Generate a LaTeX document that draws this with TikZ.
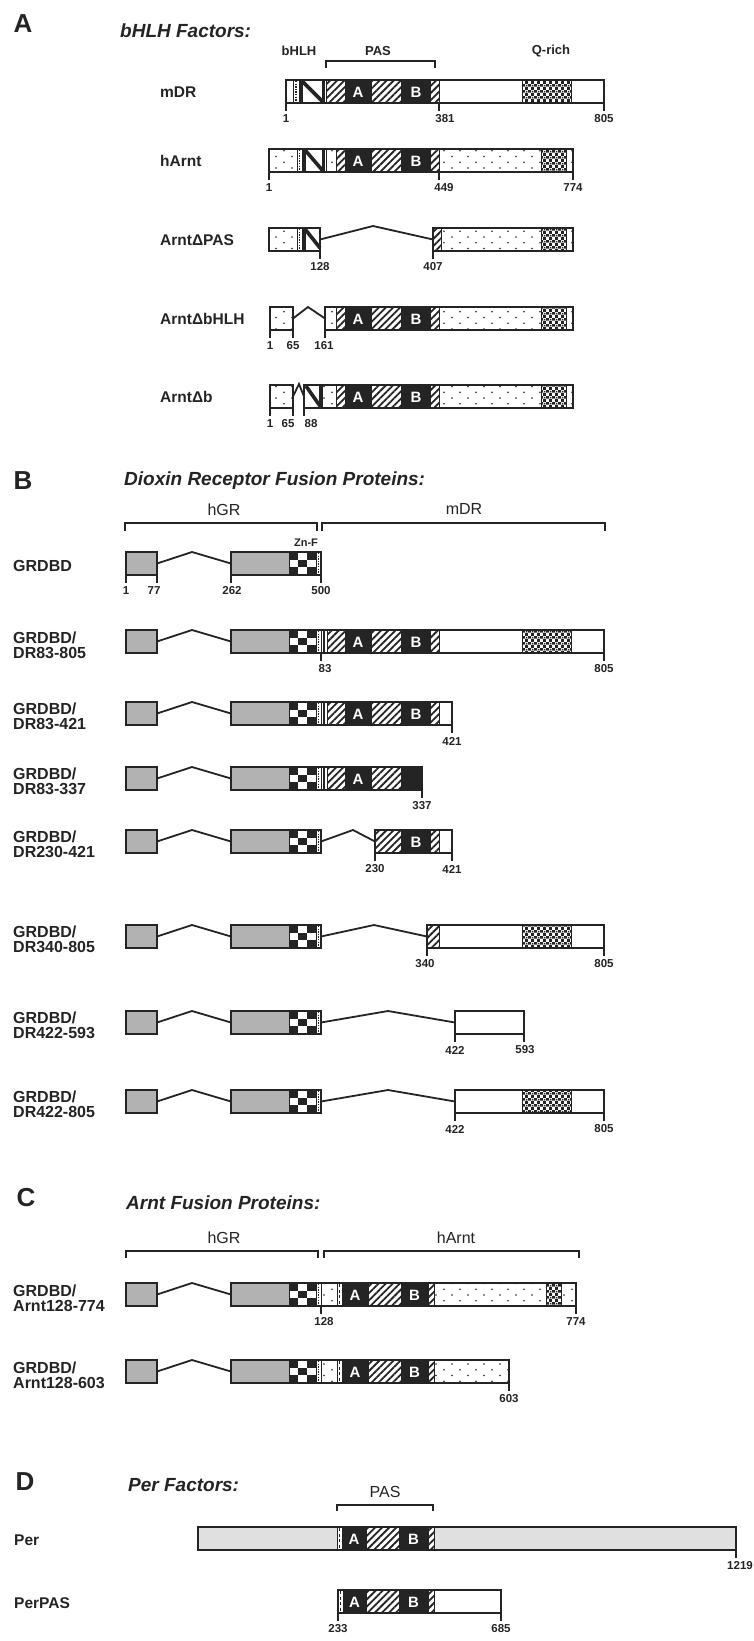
\documentclass[tikz,border=0pt]{standalone}
\usepackage{fontspec}
\setmainfont{Liberation Sans}
\usetikzlibrary{patterns,patterns.meta}
\definecolor{ink}{gray}{0.14}
\pgfdeclarepatternformonly{sdots}{\pgfqpoint{-1pt}{-1pt}}{\pgfqpoint{17pt}{12.5pt}}{\pgfqpoint{16pt}{11.5pt}}{%
 \pgfpathcircle{\pgfqpoint{4pt}{1pt}}{0.85pt}%
 \pgfpathcircle{\pgfqpoint{12pt}{6.75pt}}{0.85pt}%
 \pgfusepath{fill}}
\pgfdeclarepatternformonly{qrich}{\pgfqpoint{-1pt}{-1pt}}{\pgfqpoint{7pt}{7pt}}{\pgfqpoint{6pt}{6pt}}{%
 \pgfpathrectangle{\pgfqpoint{0.2pt}{0.3pt}}{\pgfqpoint{3pt}{2.6pt}}%
 \pgfpathrectangle{\pgfqpoint{3.2pt}{3pt}}{\pgfqpoint{2.6pt}{3pt}}%
 \pgfpathrectangle{\pgfqpoint{4.2pt}{0.6pt}}{\pgfqpoint{1.2pt}{1.4pt}}%
 \pgfusepath{fill}}
\tikzset{
 bx/.style={draw=ink, line width=1.8pt},
 sgl/.style={draw=ink, line width=0.7pt},
 wh/.style={sgl, fill=white},
 dw/.style={sgl, pattern=sdots, pattern color=ink},
 gs/.style={sgl, fill=black!30},
 gl/.style={sgl, fill=black!12},
 ht/.style={sgl, pattern={Lines[angle=45,distance=5pt,line width=1.8pt]}, pattern color=ink},
 bk/.style={sgl, fill=ink},
 qr/.style={sgl, pattern=qrich, pattern color=ink},
 cn/.style={draw=ink, line width=1.8pt},
 tk/.style={draw=ink, line width=1.4pt},
 num/.style={font=\fontsize{11.5}{12}\selectfont\bfseries, text=ink, inner sep=0pt},
 lab/.style={font=\fontsize{15.5}{18}\selectfont\bfseries, text=ink, anchor=west, inner sep=0pt},
 blab/.style={font=\fontsize{16}{15}\selectfont\bfseries, text=ink, anchor=west, inner sep=0pt, align=left},
 hd/.style={font=\fontsize{19}{22}\selectfont\bfseries\itshape, text=ink, anchor=west, inner sep=0pt},
 big/.style={font=\fontsize{26}{30}\selectfont\bfseries, text=ink, inner sep=0pt},
 dom/.style={font=\fontsize{13}{15}\selectfont\bfseries, text=ink, inner sep=0pt},
 dom2/.style={font=\fontsize{16}{18}\selectfont, text=ink, inner sep=0pt},
 abl/.style={font=\fontsize{15}{15}\selectfont\bfseries, text=white, inner sep=0pt},
 znf/.style={font=\fontsize{11}{12}\selectfont\bfseries, text=ink, inner sep=0pt},
}
\newcounter{nid}
\newcommand\NID{\stepcounter{nid}}
\newcommand\Seg[4]{\path[#4] (#1,#3) rectangle (#2,#3+23);}
\newcommand\OBox[3]{\draw[bx] (#1,#3) rectangle (#2,#3+23);}
\newcommand\Tick[4]{\draw[tk] (#1,#2+23) -- (#1,#2+31);\NID\node[num] (t\arabic{nid}) at (#3,#2+39) {#4};}
\newcommand\Lt[3]{\NID\node[abl] (l\arabic{nid}) at (#1,#2+12) {#3};}
\newcommand\Dstrip[3]{\path[wh] (#1,#3) rectangle (#2,#3+23);
 \draw[ink,line width=1.3pt,dash pattern=on 1.3pt off 1.3pt] ({(#1+#2)/2},#3+1) -- ({(#1+#2)/2},#3+22);}
\newcommand\Dash[3]{\path[wh] (#1,#3) rectangle (#2,#3+23);
 \draw[ink,line width=1.6pt,dash pattern=on 3pt off 2.5pt] ({(#1+#2)/2},#3+1) -- ({(#1+#2)/2},#3+22);}
\newcommand\Vstrip[3]{\path[wh] (#1,#3) rectangle (#2,#3+23);
 \draw[ink,line width=1.2pt] ({(#1+#2)/2},#3) -- ({(#1+#2)/2},#3+23);}
\newcommand\Nreg[3]{\path[wh] (#1,#3) rectangle (#2,#3+23);
 \draw[ink,line width=3pt] (#1+2.5,#3) -- (#1+2.5,#3+23);
 \draw[ink,line width=3.6pt] (#1+3,#3+1) -- (#2-3,#3+22);
 \draw[ink,line width=3pt] (#2-2.5,#3) -- (#2-2.5,#3+23);}
\newcommand\Checker[3]{\path[wh] (#1,#3) rectangle (#2,#3+23);
 \foreach \i in {0,1,2}{\foreach \j in {0,1,2}{%
  \pgfmathtruncatemacro\chk{mod(\i+\j,2)}%
  \ifnum\chk=0 \fill[ink] ({#1+\i*(#2-#1)/3},{#3+\j*23/3}) rectangle ({#1+(\i+1)*(#2-#1)/3},{#3+(\j+1)*23/3});\fi}}}
\newcommand\Core[1]{\Seg{345}{371}{#1}{bk}\Seg{371}{401}{#1}{ht}\Seg{401}{430}{#1}{bk}\Seg{430}{439}{#1}{ht}\Lt{358}{#1}{A}\Lt{416}{#1}{B}}
\newcommand\GR[1]{\Seg{126}{157}{#1}{gs}\OBox{126}{157}{#1}\draw[cn] (157,#1+11.5) -- (192,#1) -- (231,#1+11.5);\Seg{231}{289}{#1}{gs}\Checker{289}{316}{#1}\Dstrip{316}{321}{#1}}
\newcommand\ArntC[1]{\Seg{321}{337}{#1}{dw}\Dash{337}{342}{#1}\Seg{342}{368}{#1}{bk}\Seg{368}{401}{#1}{ht}\Seg{401}{428}{#1}{bk}\Seg{428}{434}{#1}{ht}\Lt{355}{#1}{A}\Lt{414.5}{#1}{B}}
\begin{document}
\begin{tikzpicture}[x=1pt,y=-1pt]
\useasboundingbox[fill=white] (0,0) rectangle (754,1641);
% ================= A =================
\node[big] (bigA) at (23,24) {A};
\node[hd] (hA) at (120,31) {bHLH Factors:};
\node[dom] (dbh) at (299,51) {bHLH};
\node[dom] (dpas) at (378,51) {PAS};
\node[dom] (dq) at (551,51) {Q-rich};
\draw[tk] (326,68) -- (326,61) -- (435,61) -- (435,68);
% mDR
\node[lab] (lmdr) at (160,92) {mDR};
\Seg{286}{293}{80}{wh}\Dstrip{293}{299}{80}\Nreg{299}{326}{80}\Seg{326}{345}{80}{ht}\Core{80}
\Seg{439}{522}{80}{wh}\Seg{522}{571}{80}{qr}\Seg{571}{604}{80}{wh}\OBox{286}{604}{80}
\Tick{286}{80}{286}{1}\Tick{439}{80}{445}{381}\Tick{604}{80}{604}{805}
% hArnt
\node[lab] (lharnt) at (160,161) {hArnt};
\Seg{269}{297}{149}{dw}\Dstrip{297}{302}{149}\Nreg{302}{326}{149}\Seg{326}{336}{149}{dw}\Seg{336}{345}{149}{ht}\Core{149}
\Seg{439}{541}{149}{dw}\Seg{541}{566}{149}{qr}\Seg{566}{573}{149}{dw}\OBox{269}{573}{149}
\Tick{269}{149}{269}{1}\Tick{439}{149}{444}{449}\Tick{573}{149}{573}{774}
% Arnt dPAS
\node[lab] (ldpas) at (160,240) {ArntΔPAS};
\Seg{269}{297}{228}{dw}\Dstrip{297}{302}{228}\path[wh] (302,228) rectangle (320,251);
\draw[ink,line width=3pt] (304.5,228) -- (304.5,251);
\draw[ink,line width=3.6pt] (305,229) -- (320,248);
\OBox{269}{320}{228}
\draw[cn] (320,239.5) -- (373,226) -- (433,239.5);
\Seg{433}{441}{228}{ht}\Seg{441}{541}{228}{dw}\Seg{541}{566}{228}{qr}\Seg{566}{573}{228}{dw}\OBox{433}{573}{228}
\Tick{320}{228}{320}{128}\Tick{433}{228}{433}{407}
% Arnt dbHLH
\node[lab] (ldbhlh) at (160,319) {ArntΔbHLH};
\Seg{270}{293}{307}{dw}\OBox{270}{293}{307}
\draw[cn] (293,318.5) -- (308,307) -- (325,318.5);
\Seg{325}{336}{307}{dw}\Seg{336}{345}{307}{ht}\Core{307}
\Seg{439}{541}{307}{dw}\Seg{541}{566}{307}{qr}\Seg{566}{573}{307}{dw}\OBox{325}{573}{307}
\Tick{270}{307}{270}{1}\Tick{293}{307}{293}{65}\Tick{325}{307}{324}{161}
% Arnt db
\node[lab] (ldb) at (160,397) {ArntΔb};
\Seg{270}{293}{385}{dw}\OBox{270}{293}{385}
\draw[cn] (293,396.5) -- (299,384) -- (304,396.5);
\path[wh] (304,385) rectangle (322,408);
\draw[ink,line width=3.6pt] (306,386) -- (320,406);
\draw[ink,line width=3pt] (320,385) -- (320,408);
\Seg{322}{336}{385}{dw}\Seg{336}{345}{385}{ht}\Core{385}
\Seg{439}{541}{385}{dw}\Seg{541}{566}{385}{qr}\Seg{566}{573}{385}{dw}\OBox{304}{573}{385}
\Tick{270}{385}{270}{1}\Tick{293}{385}{288}{65}\Tick{304}{385}{311}{88}
% ================= B =================
\node[big] (bigB) at (23,481) {B};
\node[hd] (hB) at (124,481) {Dioxin Receptor Fusion Proteins:};
\node[dom2] (bhgr) at (224,510) {hGR};
\node[dom2] (bmdr) at (464,509) {mDR};
\draw[tk] (125,531) -- (125,523) -- (317,523) -- (317,531);
\draw[tk] (322,531) -- (322,523) -- (605,523) -- (605,531);
\node[znf] (zn) at (306,543) {Zn-F};
% GRDBD
\node[blab] (g1) at (13,566) {GRDBD};
\GR{552}\OBox{231}{321}{552}
\Tick{126}{552}{126}{1}\Tick{157}{552}{154}{77}\Tick{231}{552}{232}{262}\Tick{321}{552}{321}{500}
% DR83-805
\node[blab] (g2) at (13,645) {GRDBD/\\DR83-805};
\GR{630}\Vstrip{321}{327}{630}\Seg{327}{345}{630}{ht}\Core{630}
\Seg{439}{522}{630}{wh}\Seg{522}{571}{630}{qr}\Seg{571}{604}{630}{wh}\OBox{231}{604}{630}
\Tick{321}{630}{325}{83}\Tick{604}{630}{604}{805}
% DR83-421
\node[blab] (g3) at (13,716) {GRDBD/\\DR83-421};
\GR{702}\Vstrip{321}{327}{702}\Seg{327}{345}{702}{ht}\Core{702}
\Seg{439}{452}{702}{wh}\OBox{231}{452}{702}
\Tick{452}{702}{452}{421}
% DR83-337
\node[blab] (g4) at (13,781) {GRDBD/\\DR83-337};
\GR{767}\Vstrip{321}{327}{767}\Seg{327}{345}{767}{ht}\Seg{345}{371}{767}{bk}\Seg{371}{401}{767}{ht}\Seg{401}{422}{767}{bk}\Lt{358}{767}{A}
\OBox{231}{422}{767}
\Tick{422}{767}{422}{337}
% DR230-421
\node[blab] (g5) at (13,844) {GRDBD/\\DR230-421};
\GR{830}\OBox{231}{321}{830}
\draw[cn] (321,841.5) -- (353,830) -- (375,841.5);
\Seg{375}{401}{830}{ht}\Seg{401}{430}{830}{bk}\Seg{430}{439}{830}{ht}\Seg{439}{452}{830}{wh}\Lt{416}{830}{B}
\OBox{375}{452}{830}
\Tick{375}{830}{375}{230}\Tick{452}{830}{452}{421}
% DR340-805
\node[blab] (g6) at (13,939) {GRDBD/\\DR340-805};
\GR{925}\OBox{231}{321}{925}
\draw[cn] (321,936.5) -- (374,925) -- (427,936.5);
\Seg{427}{439}{925}{ht}\Seg{439}{522}{925}{wh}\Seg{522}{571}{925}{qr}\Seg{571}{604}{925}{wh}\OBox{427}{604}{925}
\Tick{427}{925}{425}{340}\Tick{604}{925}{604}{805}
% DR422-593
\node[blab] (g7) at (13,1025) {GRDBD/\\DR422-593};
\GR{1011}\OBox{231}{321}{1011}
\draw[cn] (321,1022.5) -- (388,1011) -- (455,1022.5);
\Seg{455}{524}{1011}{wh}\OBox{455}{524}{1011}
\Tick{455}{1011}{455}{422}\Tick{524}{1011}{525}{593}
% DR422-805
\node[blab] (g8) at (13,1104) {GRDBD/\\DR422-805};
\GR{1090}\OBox{231}{321}{1090}
\draw[cn] (321,1101.5) -- (388,1090) -- (455,1101.5);
\Seg{455}{522}{1090}{wh}\Seg{522}{571}{1090}{qr}\Seg{571}{604}{1090}{wh}\OBox{455}{604}{1090}
\Tick{455}{1090}{455}{422}\Tick{604}{1090}{604}{805}
% ================= C =================
\node[big] (bigC) at (26,1198) {C};
\node[hd] (hC) at (126,1203) {Arnt Fusion Proteins:};
\node[dom2] (chgr) at (224,1238) {hGR};
\node[dom2] (charnt) at (456,1238) {hArnt};
\draw[tk] (126,1258) -- (126,1251) -- (318,1251) -- (318,1258);
\draw[tk] (324,1258) -- (324,1251) -- (579,1251) -- (579,1258);
% Arnt128-774
\node[blab] (c1) at (13,1298) {GRDBD/\\Arnt128-774};
\GR{1283}\ArntC{1283}
\Seg{434}{546}{1283}{dw}\Seg{546}{561}{1283}{qr}\Seg{561}{576}{1283}{dw}\OBox{231}{576}{1283}
\Tick{321}{1283}{324}{128}\Tick{576}{1283}{576}{774}
% Arnt128-603
\node[blab] (c2) at (13,1375) {GRDBD/\\Arnt128-603};
\GR{1360}\ArntC{1360}
\Seg{434}{509}{1360}{dw}\OBox{231}{509}{1360}
\Tick{509}{1360}{509}{603}
% ================= D =================
\node[big] (bigD) at (25,1482) {D};
\node[hd] (hD) at (128,1485) {Per Factors:};
\node[dom2] (dpas2) at (385,1492) {PAS};
\draw[tk] (337,1511) -- (337,1505) -- (433,1505) -- (433,1511);
% Per
\node[lab] (lper) at (14,1540) {Per};
\Seg{198}{337}{1527}{gl}\Dash{337}{342}{1527}\Seg{342}{366}{1527}{bk}\Seg{366}{399}{1527}{ht}\Seg{399}{428}{1527}{bk}\Seg{428}{434}{1527}{ht}\Seg{434}{736}{1527}{gl}
\Lt{354}{1527}{A}\Lt{413.5}{1527}{B}
\OBox{198}{736}{1527}
\Tick{736}{1527}{740}{1219}
% PerPAS
\node[lab] (lperpas) at (14,1603) {PerPAS};
\Dash{338}{343}{1590}\Seg{343}{366}{1590}{bk}\Seg{366}{399}{1590}{ht}\Seg{399}{428}{1590}{bk}\Seg{428}{434}{1590}{ht}\Seg{434}{501}{1590}{wh}
\Lt{354.5}{1590}{A}\Lt{413.5}{1590}{B}
\OBox{338}{501}{1590}
\Tick{338}{1590}{338}{233}\Tick{501}{1590}{501}{685}
\end{tikzpicture}
\end{document}
